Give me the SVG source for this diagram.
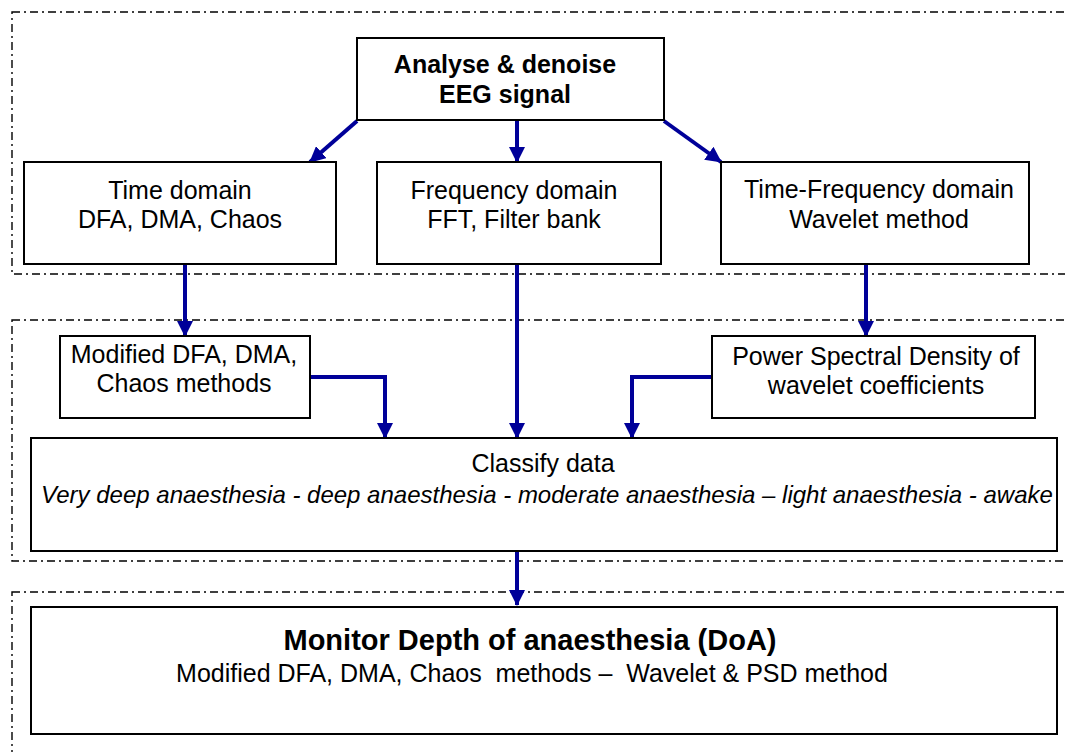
<svg xmlns="http://www.w3.org/2000/svg" width="1065" height="752" viewBox="0 0 1065 752">
<style>
.region{fill:none;stroke:#000;stroke-width:1.4;stroke-dasharray:8,4,2,4}
.box{fill:#fff;stroke:#000;stroke-width:2}
.t{font-family:"Liberation Sans",Arial,sans-serif;font-size:25px;fill:#000;text-anchor:middle}
.b{font-weight:bold}
.i{font-style:italic;font-size:24px}
.pre{white-space:pre}
.conn{fill:none;stroke:#000099;stroke-width:4}
</style>
<defs>
<marker id="ah" markerUnits="userSpaceOnUse" markerWidth="16" markerHeight="16" viewBox="0 0 16 16" refX="15" refY="8" orient="auto">
<path d="M0,0 L16,8 L0,16 Z" fill="#000099"/>
</marker>
</defs>
<rect width="1065" height="752" fill="#fff"/>
<g id="regions">
<rect class="region" x="12" y="12" width="1080" height="262"/>
<rect class="region" x="12" y="320" width="1080" height="241"/>
<rect class="region" x="12" y="592" width="1080" height="200"/>
</g>
<g id="connectors">
<line class="conn" x1="357" y1="121" x2="310" y2="162" marker-end="url(#ah)"/>
<line class="conn" x1="517" y1="121" x2="517" y2="162" marker-end="url(#ah)"/>
<line class="conn" x1="664" y1="121" x2="721" y2="162" marker-end="url(#ah)"/>
<line class="conn" x1="185" y1="265" x2="185" y2="336" marker-end="url(#ah)"/>
<line class="conn" x1="517" y1="265" x2="517" y2="438" marker-end="url(#ah)"/>
<line class="conn" x1="866" y1="265" x2="866" y2="336" marker-end="url(#ah)"/>
<polyline class="conn" points="310,377 385,377 385,438" marker-end="url(#ah)"/>
<polyline class="conn" points="712,377 632,377 632,438" marker-end="url(#ah)"/>
<line class="conn" x1="517" y1="552" x2="517" y2="605" marker-end="url(#ah)"/>
</g>
<g id="analyse">
<rect class="box" x="357" y="38" width="307" height="82"/>
<text class="t b" x="505" y="73">Analyse &amp; denoise</text>
<text class="t b" x="505" y="103">EEG signal</text>
</g>
<g id="time">
<rect class="box" x="24" y="162" width="312" height="102"/>
<text class="t" x="180" y="199">Time domain</text>
<text class="t" x="180" y="228">DFA, DMA, Chaos</text>
</g>
<g id="freq">
<rect class="box" x="377" y="162" width="284" height="102"/>
<text class="t" x="514" y="199">Frequency domain</text>
<text class="t" x="514" y="228">FFT, Filter bank</text>
</g>
<g id="timefreq">
<rect class="box" x="721" y="162" width="308" height="102"/>
<text class="t" x="879" y="198">Time-Frequency domain</text>
<text class="t" x="879" y="228">Wavelet method</text>
</g>
<g id="modified">
<rect class="box" x="60" y="336" width="250" height="82"/>
<text class="t" x="184" y="363">Modified DFA, DMA,</text>
<text class="t" x="184" y="392">Chaos methods</text>
</g>
<g id="psd">
<rect class="box" x="712" y="336" width="323" height="82"/>
<text class="t" x="876" y="365">Power Spectral Density of</text>
<text class="t" x="876" y="394">wavelet coefficients</text>
</g>
<g id="classify">
<rect class="box" x="31" y="438" width="1026" height="113"/>
<text class="t" x="543" y="472">Classify data</text>
<text class="t i" x="547" y="503">Very deep anaesthesia - deep anaesthesia - moderate anaesthesia – light anaesthesia - awake</text>
</g>
<g id="monitor">
<rect class="box" x="31" y="607" width="1026" height="127"/>
<text class="t b" x="530" y="650" style="font-size:29px">Monitor Depth of anaesthesia (DoA)</text>
<text class="t pre" x="532" y="682">Modified DFA, DMA, Chaos  methods –  Wavelet &amp; PSD method</text>
</g>
</svg>
